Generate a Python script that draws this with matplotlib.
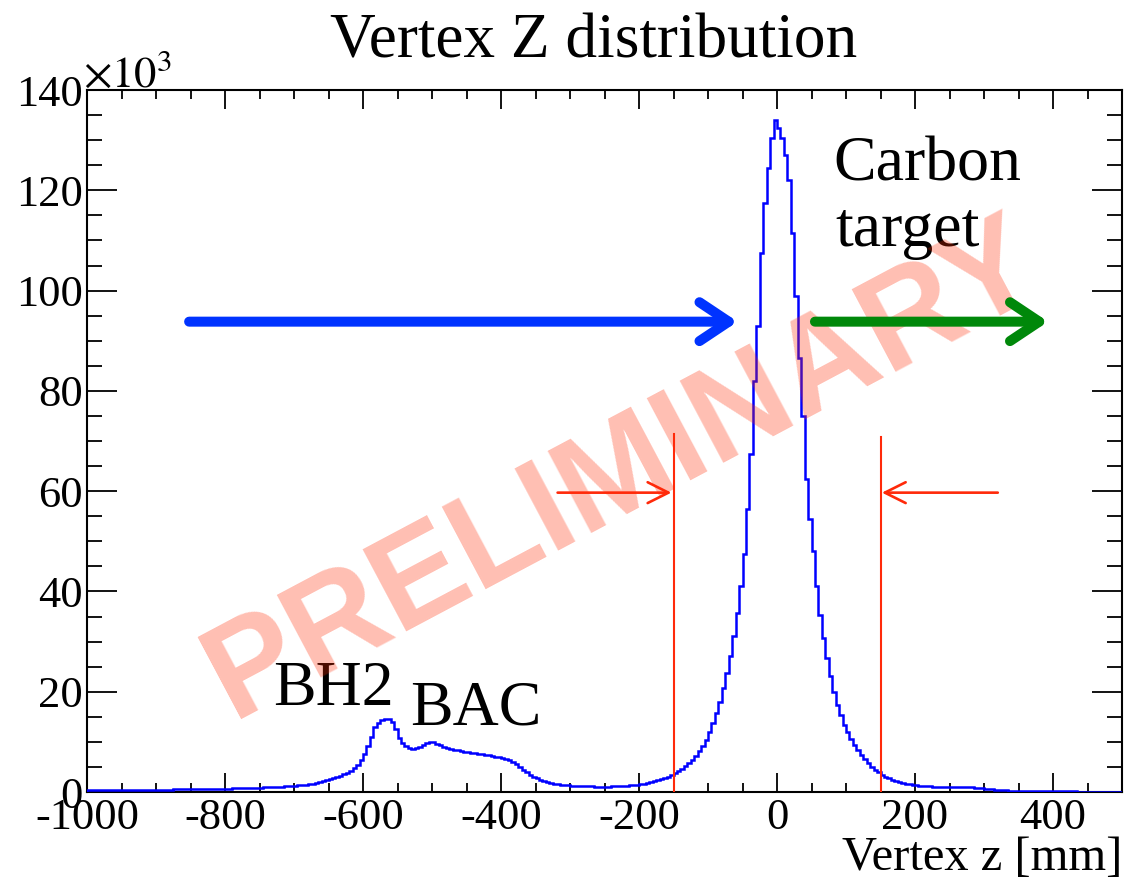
import numpy as np
import matplotlib
matplotlib.use("Agg")
import matplotlib.pyplot as plt
from matplotlib.ticker import MultipleLocator

# histogram: 5 mm bins from -1000 to 500 mm, counts in units of 10^3
bin_lo, bin_hi, bin_w = -1000, 500, 5
counts = [
    0.30, 0.30, 0.31, 0.31, 0.32, 0.32, 0.33, 0.33, 0.34, 0.34,   # -1000
    0.35, 0.36, 0.37, 0.38, 0.39, 0.40, 0.41, 0.42, 0.43, 0.44,   # -950
    0.45, 0.46, 0.47, 0.48, 0.49, 0.50, 0.52, 0.53, 0.54, 0.55,   # -900
    0.56, 0.58, 0.59, 0.60, 0.61, 0.62, 0.63, 0.64, 0.65, 0.66,   # -850
    0.67, 0.69, 0.70, 0.72, 0.74, 0.76, 0.78, 0.80, 0.82, 0.85,   # -800
    0.87, 0.90, 0.93, 0.96, 0.99, 1.02, 1.06, 1.10, 1.14, 1.19,   # -750
    1.24, 1.30, 1.37, 1.45, 1.55, 1.66, 1.80, 1.95, 2.12, 2.30,   # -700
    2.50, 2.72, 2.95, 3.20, 3.50, 3.85, 4.25, 4.75, 5.40, 6.30,   # -650
    7.50, 9.20, 11.0, 13.0, 13.8, 14.3, 14.6, 14.5, 14.0, 12.6,   # -600
    10.8, 9.80, 9.20, 8.80, 8.60, 8.70, 9.00, 9.40, 9.80, 9.95,   # -550
    9.90, 9.60, 9.30, 9.00, 8.80, 8.60, 8.40, 8.30, 8.15, 8.05,   # -500
    7.95, 7.85, 7.75, 7.65, 7.55, 7.45, 7.35, 7.20, 7.05, 6.90,   # -450
    6.80, 6.60, 6.30, 5.90, 5.50, 4.90, 4.40, 3.90, 3.40, 3.00,   # -400
    2.70, 2.40, 2.15, 1.95, 1.80, 1.65, 1.55, 1.47, 1.40, 1.34,   # -350
    1.29, 1.24, 1.20, 1.17, 1.14, 1.12, 1.10, 1.09, 1.08, 1.08,   # -300
    1.08, 1.09, 1.10, 1.12, 1.15, 1.19, 1.24, 1.30, 1.37, 1.45,   # -250
    1.55, 1.66, 1.79, 1.94, 2.11, 2.30, 2.52, 2.78, 3.07, 3.40,   # -200
    3.75, 4.15, 4.60, 5.10, 5.70, 6.40, 7.20, 8.10, 9.10, 10.3,   # -150
    12.0, 13.8, 15.8, 18.0, 20.8, 23.8, 27.2, 31.2, 35.6, 41.0,   # -100
    47.5, 56.5, 67.5, 82.0, 93.0, 107.5, 117.5, 124.5, 130.5, 134.0,  # -50
    132.5, 130.5, 127.0, 122.0, 111.5, 99.0, 86.5, 75.0, 62.5, 54.5,  # 0
    48.0, 41.0, 35.2, 30.8, 26.8, 23.2, 20.0, 17.4, 15.3, 13.4,   # 50
    11.9, 10.6, 9.40, 8.30, 7.40, 6.50, 5.70, 5.00, 4.40, 3.90,   # 100
    3.45, 3.05, 2.70, 2.40, 2.15, 1.95, 1.78, 1.63, 1.50, 1.40,   # 150
    1.32, 1.25, 1.20, 1.16, 1.12, 1.09, 1.07, 1.05, 1.04, 1.03,   # 200
    1.03, 1.02, 1.01, 1.00, 0.98, 0.95, 0.91, 0.86, 0.80, 0.73,   # 250
    0.66, 0.58, 0.51, 0.45, 0.40, 0.35, 0.31, 0.28, 0.25, 0.23,   # 300
    0.21, 0.19, 0.18, 0.17, 0.16, 0.15, 0.14, 0.14, 0.13, 0.13,   # 350
    0.12, 0.12, 0.11, 0.11, 0.10, 0.10, 0.10, 0.09, 0.09, 0.09,   # 400
    0.09, 0.08, 0.08, 0.08, 0.08, 0.07, 0.07, 0.07, 0.07, 0.07,   # 450
]

# cut lines (mm) and their heights (10^3)
cut_x = [-150, 150]
cut_top = [71.4, 70.7]

plt.rcParams["font.family"] = ["Liberation Serif", "DejaVu Serif"]
plt.rcParams["mathtext.fontset"] = "stix"
plt.rcParams["axes.unicode_minus"] = False

fig = plt.figure(figsize=(11.28, 8.82), dpi=100)
ax = fig.add_axes([87 / 1128, 1 - 792 / 882, (1122 - 87) / 1128, (792 - 90) / 882])

edges = np.arange(bin_lo, bin_hi + bin_w, bin_w)
ax.stairs(counts, edges, color="#0000ff", lw=1.8, zorder=3)

ax.set_xlim(bin_lo, bin_hi)
ax.set_ylim(0, 140)
ax.xaxis.set_major_locator(MultipleLocator(200))
ax.xaxis.set_minor_locator(MultipleLocator(50))
ax.yaxis.set_major_locator(MultipleLocator(20))
ax.yaxis.set_minor_locator(MultipleLocator(5))
ax.tick_params(which="both", direction="in", top=True, right=True, width=1.3, labelsize=32)
ax.tick_params(axis="x", which="major", length=13.7, pad=4)
ax.tick_params(axis="x", which="minor", length=6.8)
ax.tick_params(axis="y", which="major", length=21.5, pad=3)
ax.tick_params(axis="y", which="minor", length=10.8)
for s in ax.spines.values():
    s.set_linewidth(1.5)

# cut lines and arrows
for xc, yt in zip(cut_x, cut_top):
    ax.plot([xc, xc], [0, yt], color="#ff2a0a", lw=1.5, zorder=6)
red_kw = dict(arrowstyle="->,head_length=15,head_width=7.5", color="#ff2a0a", lw=1.9,
              mutation_scale=1, shrinkA=0, shrinkB=0, capstyle="round", joinstyle="round")
ax.annotate("", xy=(-153, 59.7), xytext=(-318, 59.7), arrowprops=red_kw, zorder=6)
ax.annotate("", xy=(152, 59.7), xytext=(320, 59.7), arrowprops=red_kw, zorder=6)

big_kw = dict(arrowstyle="->,head_length=21,head_width=14", lw=7.2,
              mutation_scale=1, shrinkA=0, shrinkB=0, capstyle="round", joinstyle="round")
ax.annotate("", xy=(-57, 93.8), xytext=(-852, 93.8),
            arrowprops=dict(big_kw, color="#0033ff"), zorder=6)
ax.annotate("", xy=(393, 93.8), xytext=(55, 93.8),
            arrowprops=dict(big_kw, color="#00880a"), zorder=6)

# labels
ax.text(-730, 17.4, "BH2", fontsize=46, ha="left", va="baseline", zorder=4)
ax.text(-531, 13.4, "BAC", fontsize=46, ha="left", va="baseline", zorder=4)
ax.text(81, 122, "Carbon", fontsize=46, ha="left", va="baseline", zorder=4)
ax.text(84, 108.8, "target", fontsize=46, ha="left", va="baseline", zorder=4)

# watermark
ax.text(-198, 57.6, "PRELIMINARY", fontsize=97, family="Liberation Sans", weight="bold",
        color="#ff2a00", alpha=0.3, rotation=28, ha="center", va="baseline",
        rotation_mode="anchor", zorder=5)

fig.text(593.5 / 1128, 1 - 57 / 882, "Vertex Z distribution", fontsize=45.5,
         ha="center", va="baseline")
fig.text(1122 / 1128, 1 - 870 / 882, "Vertex z [mm]", fontsize=35,
         ha="right", va="baseline")
fig.text(83 / 1128, 1 - 87 / 882, r"$\times10^{3}$", fontsize=32,
         ha="left", va="baseline")

fig.savefig("out.png", dpi=100)
